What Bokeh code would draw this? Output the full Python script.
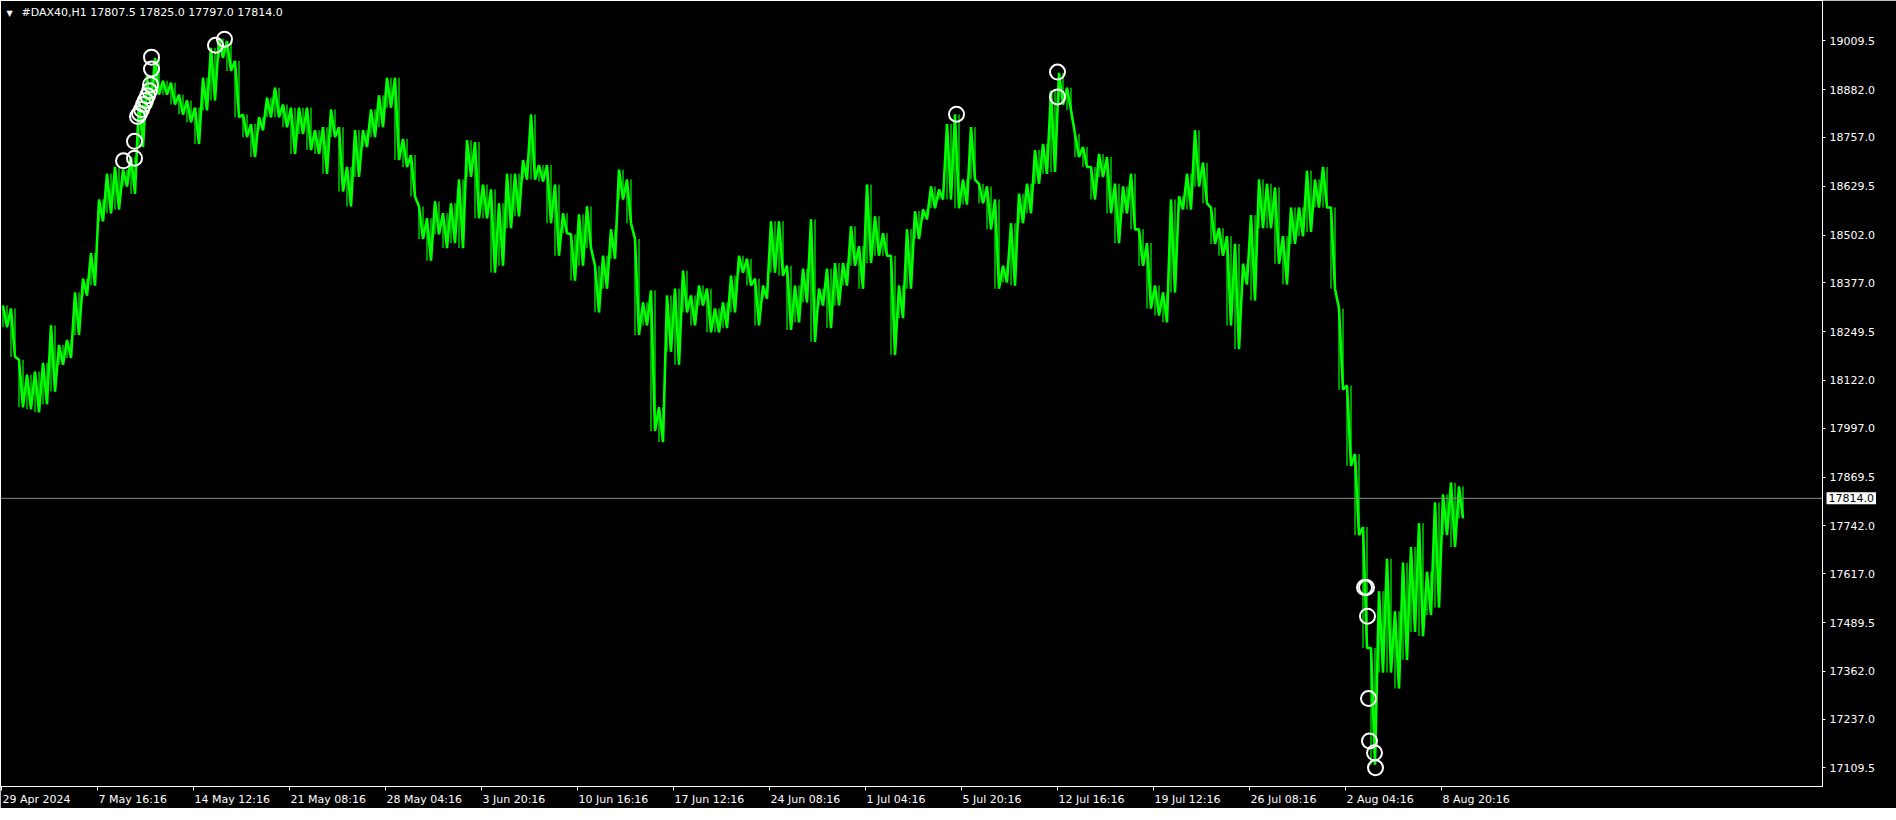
import math
from bokeh.plotting import figure
from bokeh.models import (FixedTicker, PrintfTickFormatter, Span, Label, Range1d)
from bokeh.embed import file_html
from bokeh.resources import INLINE

# ---- data (H1 bars of #DAX40, summarised: high / low of every 8 hourly bars) ----
bars_per_sample = 8
high = [
    18318, 18310, 18176, 18137, 18145, 18168, 18266, 18215, 18228, 18352,
    18388, 18455, 18595, 18662, 18680, 18673, 18706, 18861, 18918, 18965,
    18905, 18900, 18869, 18854, 18835, 18913, 18991, 19016, 19009, 18957,
    18817, 18792, 18810, 18861, 18887, 18843, 18835, 18835, 18835, 18776,
    18784, 18830, 18784, 18680, 18776, 18776, 18830, 18867, 18913, 18913,
    18753, 18711, 18577, 18546, 18590, 18559, 18585, 18647, 18750, 18745,
    18634, 18621, 18585, 18662, 18662, 18698, 18817, 18685, 18685, 18634,
    18559, 18504, 18556, 18577, 18422, 18448, 18517, 18673, 18647, 18492,
    18326, 18357, 18052, 18344, 18362, 18409, 18344, 18370, 18362, 18310,
    18326, 18396, 18448, 18440, 18388, 18370, 18538, 18538, 18422, 18370,
    18414, 18543, 18362, 18414, 18429, 18429, 18525, 18473, 18634, 18551,
    18507, 18448, 18370, 18517, 18564, 18569, 18629, 18621, 18792, 18817,
    18647, 18784, 18636, 18629, 18595, 18422, 18533, 18610, 18636, 18724,
    18740, 18879, 18926, 18887, 18766, 18732, 18680, 18714, 18706, 18636,
    18629, 18662, 18517, 18481, 18370, 18352, 18595, 18603, 18662, 18776,
    18691, 18574, 18520, 18499, 18479, 18427, 18554, 18647, 18636, 18626,
    18499, 18574, 18574, 18670, 18647, 18680, 18574, 18310, 18109, 17930,
    17739, 17423, 17571, 17656, 17519, 17646, 17687, 17749, 17622, 17803,
    17824, 17855, 17845,
]
low = [
    18261, 18184, 18052, 18047, 18039, 18060, 18093, 18163, 18181, 18241,
    18344, 18370, 18538, 18559, 18569, 18629, 18610, 18732, 18835, 18869,
    18869, 18843, 18817, 18797, 18740, 18828, 18854, 18965, 18931, 18810,
    18758, 18706, 18776, 18810, 18810, 18784, 18714, 18766, 18724, 18714,
    18662, 18758, 18616, 18577, 18654, 18732, 18758, 18784, 18835, 18698,
    18680, 18603, 18492, 18435, 18504, 18468, 18481, 18468, 18654, 18546,
    18546, 18404, 18422, 18520, 18551, 18647, 18647, 18642, 18533, 18448,
    18507, 18383, 18422, 18468, 18300, 18362, 18440, 18595, 18533, 18241,
    18266, 17990, 17961, 18197, 18163, 18300, 18266, 18318, 18248, 18248,
    18259, 18300, 18404, 18370, 18266, 18336, 18404, 18396, 18254, 18274,
    18326, 18223, 18318, 18259, 18318, 18370, 18422, 18362, 18429, 18448,
    18448, 18189, 18285, 18362, 18492, 18543, 18572, 18595, 18595, 18572,
    18582, 18647, 18585, 18517, 18362, 18378, 18370, 18533, 18559, 18636,
    18662, 18667, 18843, 18828, 18706, 18680, 18595, 18654, 18559, 18481,
    18559, 18517, 18422, 18310, 18292, 18274, 18352, 18569, 18569, 18629,
    18585, 18479, 18448, 18266, 18204, 18373, 18331, 18520, 18520, 18427,
    18373, 18479, 18499, 18510, 18574, 18574, 18362, 18098, 17899, 17718,
    17423, 17118, 17359, 17359, 17317, 17392, 17465, 17454, 17509, 17529,
    17718, 17687, 17762,
]

# signal markers (bar index, price)
circle_bar = [122, 133, 133, 136, 138, 140, 142, 144, 146, 148, 149, 150, 150,
              214, 223, 955, 1056, 1056,
              1363, 1365, 1366, 1367, 1368, 1373, 1374]
circle_price = [18696, 18703, 18747, 18812, 18820, 18830, 18843, 18854, 18866, 18879,
                18895, 18936, 18967, 18998, 19014, 18818, 18928, 18863,
                17581, 17581, 17506, 17291, 17180, 17149, 17110]

y_ticks = [19009.5, 18882.0, 18757.0, 18629.5, 18502.0, 18377.0, 18249.5, 18122.0,
           17997.0, 17869.5, 17742.0, 17617.0, 17489.5, 17362.0, 17237.0, 17109.5]
x_tick_bars = [0, 96, 192, 288, 384, 480, 576, 672, 768, 864, 960, 1056, 1152, 1248, 1344, 1440]
x_tick_labels = ["29 Apr 2024", "7 May 16:16", "14 May 12:16", "21 May 08:16", "28 May 04:16",
                 "3 Jun 20:16", "10 Jun 16:16", "17 Jun 12:16", "24 Jun 08:16", "1 Jul 04:16",
                 "5 Jul 20:16", "12 Jul 16:16", "19 Jul 12:16", "26 Jul 08:16", "2 Aug 04:16",
                 "8 Aug 20:16"]

last_price = 17814.0
title_text = "#DAX40,H1  17807.5 17825.0 17797.0 17814.0"

X_START, X_END = -1, 1821
Y_START, Y_END = 17061, 19115
FONT = "DejaVu Sans"
FONT_PX = 11

# approximate advance widths of DejaVu Sans (fraction of the em) used to left-align
# the date labels at their tick marks, as the reference does
_adv = {" ": 0.318, ":": 0.337, "A": 0.684, "p": 0.635, "r": 0.411, "M": 0.863,
        "a": 0.613, "y": 0.592, "J": 0.295, "u": 0.634, "n": 0.634, "l": 0.278, "g": 0.635}


def text_px(s):
    return sum(_adv.get(c, 0.636) for c in s) * FONT_PX


# ---- figure ----
p = figure(frame_width=1822, frame_height=786,
           x_range=Range1d(X_START, X_END), y_range=Range1d(Y_START, Y_END),
           output_backend="svg", toolbar_location=None, y_axis_location="right",
           background_fill_color="black", border_fill_color="black",
           min_border_left=0, min_border_top=0, min_border_right=58, min_border_bottom=18)
p.outline_line_color = "white"
p.outline_line_width = 1
p.grid.visible = False

# price bars: thin vertical high-low strokes plus a zig-zag between each sample's high and low
zx, zy = [], []
sx, s_lo, s_hi = [], [], []
for i, (h, l) in enumerate(zip(high, low)):
    base = i * bars_per_sample
    zx += [base + 1.5, base + 5.5]
    zy += [h, l]
    sx += [base + 1.5, base + 5.5]
    s_lo += [l, l]
    s_hi += [h, h]
p.segment(x0=sx, y0=s_lo, x1=sx, y1=s_hi, line_color="#00ff00", line_width=1.2)
p.line(zx, zy, line_color="#00ff00", line_width=2.6)

p.add_layout(Span(location=last_price, dimension="width", line_color="#8c8c8c", line_width=1))

p.scatter(circle_bar, circle_price, marker="circle", size=15, fill_alpha=0,
          line_color="white", line_width=2)

# ---- axes ----
yax = p.yaxis[0]
yax.ticker = FixedTicker(ticks=y_ticks)
yax.formatter = PrintfTickFormatter(format="%.1f")
yax.axis_line_color = "white"
yax.major_tick_line_color = "white"
yax.major_tick_out = 3
yax.major_tick_in = 0
yax.minor_tick_line_color = None
yax.major_label_text_color = "white"
yax.major_label_text_font = FONT
yax.major_label_text_font_size = f"{FONT_PX}px"
yax.major_label_standoff = 4

# x axis: tick marks (drawn as minor ticks) at the label times; the labels themselves
# are centred half their width to the right so that they start at their tick
label_centres = [t + 1 + text_px(s) / 2 for t, s in zip(x_tick_bars, x_tick_labels)]
xax = p.xaxis[0]
xax.ticker = FixedTicker(ticks=label_centres, minor_ticks=x_tick_bars)
xax.major_label_overrides = {c: s for c, s in zip(label_centres, x_tick_labels)}
xax.axis_line_color = "white"
xax.major_tick_line_color = None
xax.minor_tick_line_color = "white"
xax.minor_tick_out = 4
xax.minor_tick_in = 0
xax.major_tick_out = 4
xax.major_tick_in = 0
xax.major_label_text_color = "white"
xax.major_label_text_font = FONT
xax.major_label_text_font_size = f"{FONT_PX}px"
xax.major_label_standoff = 2

# last price tag (placed in the right-hand panel so it is not clipped by the frame)
tag = Label(x=X_END, y=last_price, x_offset=4, text="17814.0",
            text_align="left", text_baseline="middle", text_color="black",
            text_font=FONT, text_font_size=f"{FONT_PX}px",
            background_fill_color="white", padding=2)
p.add_layout(tag, "right")

# title
p.add_layout(Label(x=X_START, y=Y_END, x_offset=21, y_offset=-5, text=title_text,
                   text_align="left", text_baseline="top", text_color="white",
                   text_font=FONT, text_font_size=f"{FONT_PX}px"))
p.add_layout(Label(x=X_START, y=Y_END, x_offset=6, y_offset=-8, text="\u25bc",
                   text_align="left", text_baseline="top", text_color="white",
                   text_font=FONT, text_font_size="8px"))

open("out.html", "w").write(file_html(p, INLINE))
